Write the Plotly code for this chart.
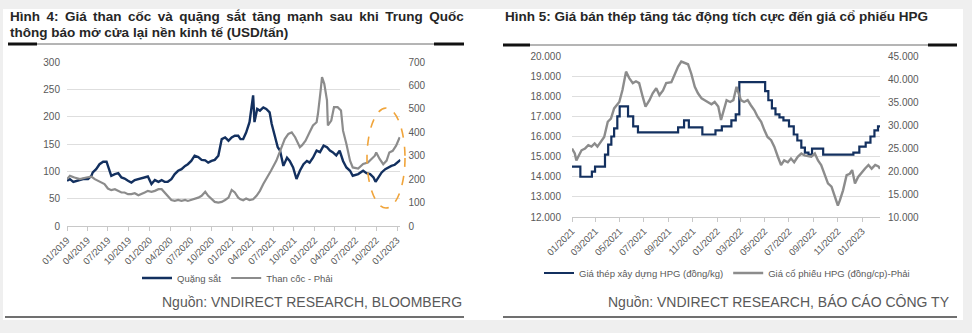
import plotly.graph_objects as go

W, H = 972, 333


def px(x):
    return x / W


def py(y):
    return 1 - y / H


FONT = "Liberation Sans, Arial, sans-serif"
NAVY = "#13305f"
GREY = "#8c8c8c"
TICK = "#595959"

# ---------------- Figure 4 data (USD/tấn) ----------------
ore_dates = [
    "2019-01-01", "2019-01-14", "2019-01-29", "2019-02-12", "2019-02-27", "2019-03-13",
    "2019-04-04", "2019-04-19", "2019-04-25", "2019-05-10", "2019-05-25", "2019-06-10",
    "2019-06-25", "2019-07-07", "2019-07-16", "2019-08-01", "2019-08-16", "2019-08-30",
    "2019-09-13", "2019-09-28", "2019-10-13", "2019-10-28", "2019-11-13", "2019-12-04",
    "2019-12-25", "2020-01-10", "2020-01-25", "2020-02-10", "2020-02-24", "2020-03-08",
    "2020-03-22", "2020-04-07", "2020-04-22", "2020-05-07", "2020-05-22", "2020-06-07",
    "2020-06-19", "2020-07-04", "2020-07-19", "2020-08-04", "2020-08-19", "2020-09-04",
    "2020-09-17", "2020-10-02", "2020-10-16", "2020-11-01", "2020-11-16", "2020-12-01",
    "2020-12-16", "2020-12-30", "2021-01-13", "2021-01-28", "2021-02-07", "2021-02-19",
    "2021-03-04", "2021-03-19", "2021-04-04", "2021-04-10", "2021-04-22", "2021-05-04",
    "2021-05-19", "2021-06-01", "2021-06-16", "2021-06-25", "2021-07-10", "2021-07-22",
    "2021-08-01", "2021-08-16", "2021-09-01", "2021-09-13", "2021-09-28", "2021-10-13",
    "2021-10-28", "2021-11-13", "2021-11-28", "2021-12-10", "2021-12-25", "2022-01-10",
    "2022-01-25", "2022-02-10", "2022-02-25", "2022-03-10", "2022-03-22", "2022-04-07",
    "2022-04-22", "2022-05-07", "2022-05-22", "2022-06-07", "2022-06-19", "2022-07-13",
    "2022-08-04", "2022-08-19", "2022-09-04", "2022-09-19", "2022-09-28", "2022-10-10",
    "2022-10-25", "2022-11-10", "2022-11-22", "2022-12-07", "2022-12-22", "2023-01-07",
    "2023-01-16",
]
ore_values = [
    82.7, 85.8, 80.8, 82.7, 84, 86,
    85.8, 91.8, 98, 104, 113, 117.6,
    117.6, 104, 91.8, 95, 96.6, 88.8,
    86.9, 82.7, 79.6, 84, 85.8, 86.9,
    90.6, 76.6, 84, 80.8, 84, 80.8,
    80.8, 85.8, 95, 101, 104, 110,
    113, 119, 128.6, 126, 121, 120,
    116, 119, 121, 128.6, 159, 162,
    156, 162, 165, 165, 159, 159,
    171, 190, 239, 190, 214, 211,
    217, 214, 208, 187, 165, 144,
    138, 110, 125, 119, 107, 86,
    101, 113, 119, 116, 125, 138,
    135, 147, 144, 138, 135, 129,
    138, 119, 107, 101, 92, 95,
    101, 96.6, 95, 88.8, 80.8, 88.8,
    98, 104, 107, 110, 112, 117.6,
    121,
]

coke_dates = [
    "2019-01-01", "2019-01-14", "2019-02-03", "2019-02-27", "2019-03-28", "2019-04-19",
    "2019-05-04", "2019-05-17", "2019-06-02", "2019-06-16", "2019-07-01", "2019-07-16",
    "2019-08-01", "2019-08-14", "2019-08-30", "2019-09-13", "2019-09-28", "2019-10-13",
    "2019-10-28", "2019-11-13", "2019-11-28", "2019-12-11", "2019-12-25", "2020-01-10",
    "2020-01-25", "2020-02-10", "2020-02-24", "2020-03-08", "2020-03-22", "2020-04-07",
    "2020-04-22", "2020-05-07", "2020-05-22", "2020-06-07", "2020-06-19", "2020-07-04",
    "2020-07-19", "2020-08-04", "2020-08-19", "2020-09-04", "2020-09-17", "2020-10-02",
    "2020-10-16", "2020-11-01", "2020-11-16", "2020-12-01", "2020-12-16", "2020-12-30",
    "2021-01-13", "2021-01-28", "2021-02-07", "2021-02-19", "2021-03-04", "2021-03-19",
    "2021-04-04", "2021-04-19", "2021-05-04", "2021-05-19", "2021-06-01", "2021-06-22",
    "2021-07-16", "2021-08-07", "2021-08-22", "2021-09-07", "2021-09-22", "2021-10-07",
    "2021-10-19", "2021-10-28", "2021-11-07", "2021-11-22", "2021-12-10", "2021-12-25",
    "2022-01-10", "2022-01-16", "2022-01-28", "2022-02-03", "2022-02-13", "2022-02-25",
    "2022-03-01", "2022-03-16", "2022-03-28", "2022-04-13", "2022-04-28", "2022-05-07",
    "2022-05-22", "2022-06-07", "2022-06-19", "2022-07-13", "2022-08-04", "2022-08-25",
    "2022-09-10", "2022-09-25", "2022-10-01", "2022-10-16", "2022-11-01", "2022-11-16",
    "2022-11-28", "2022-12-13", "2022-12-28", "2023-01-13",
]
coke_values = [
    200, 214, 207, 200, 207, 211,
    200, 193, 186, 179, 160, 153,
    157, 150, 143, 143, 136, 136,
    140, 131, 136, 143, 150, 146,
    150, 157, 157, 143, 129, 111,
    107, 111, 107, 111, 107, 111,
    114, 121, 129, 146, 129, 114,
    103, 100, 103, 111, 121, 154,
    143, 121, 114, 110, 117, 111,
    114, 129, 150, 179, 200, 236,
    279, 329, 371, 393, 400, 379,
    357, 336, 345, 364, 400, 429,
    443, 479, 579, 636, 607, 536,
    429, 450, 507, 507, 493, 407,
    350, 279, 250, 245, 265, 271,
    286, 300, 314, 286, 264, 279,
    314, 321, 343, 379,
]

# ---------------- Figure 5 data ----------------
steel_dates = [
    "2021-01-01", "2021-01-22", "2021-02-20", "2021-02-28", "2021-03-25", "2021-04-02",
    "2021-04-10", "2021-04-17", "2021-04-25", "2021-05-01", "2021-05-22", "2021-06-04",
    "2021-06-16", "2021-09-25", "2021-10-10", "2021-10-22", "2021-11-25", "2021-12-28",
    "2022-01-13", "2022-02-06", "2022-02-17", "2022-02-26", "2022-05-02", "2022-05-10",
    "2022-05-19", "2022-05-28", "2022-06-07", "2022-06-17", "2022-07-01", "2022-07-13",
    "2022-07-22", "2022-08-01", "2022-08-10", "2022-08-19", "2022-08-28", "2022-09-25",
    "2022-12-10", "2022-12-25", "2023-01-10", "2023-01-22", "2023-02-01", "2023-02-10",
    "2023-02-15",
]
steel_values = [
    14500, 14000, 14250, 14500, 15100, 15600,
    16000, 16400, 17000, 17500, 17000, 16500,
    16200, 16450, 16800, 16450, 16100, 16300,
    16500, 16800, 17100, 18700, 18250, 17800,
    17400, 17100, 16950, 16800, 16500, 16100,
    15800, 15450, 15200, 15100, 15400, 15100,
    15200, 15500, 15700, 16000, 16300, 16500,
    16500,
]

stock_dates = [
    "2021-01-01", "2021-01-08", "2021-01-12", "2021-01-16", "2021-01-25", "2021-02-03",
    "2021-02-11", "2021-02-19", "2021-02-27", "2021-03-06", "2021-03-15", "2021-03-23",
    "2021-04-01", "2021-04-09", "2021-04-17", "2021-04-30", "2021-05-08", "2021-05-17",
    "2021-05-25", "2021-06-03", "2021-06-11", "2021-06-19", "2021-06-28", "2021-07-05",
    "2021-07-15", "2021-07-23", "2021-08-01", "2021-08-09", "2021-08-18", "2021-08-26",
    "2021-09-08", "2021-09-16", "2021-09-25", "2021-10-03", "2021-10-11", "2021-10-20",
    "2021-10-28", "2021-11-06", "2021-11-14", "2021-11-23", "2021-12-01", "2021-12-09",
    "2021-12-18", "2021-12-26", "2022-01-04", "2022-01-11", "2022-01-17", "2022-01-25",
    "2022-02-03", "2022-02-11", "2022-02-19", "2022-02-25", "2022-03-02", "2022-03-10",
    "2022-03-19", "2022-03-27", "2022-04-05", "2022-04-13", "2022-04-22", "2022-04-30",
    "2022-05-08", "2022-05-17", "2022-05-25", "2022-06-03", "2022-06-11", "2022-06-19",
    "2022-06-28", "2022-07-06", "2022-07-14", "2022-07-23", "2022-08-01", "2022-08-09",
    "2022-08-17", "2022-08-26", "2022-09-04", "2022-09-12", "2022-09-20", "2022-09-29",
    "2022-10-07", "2022-10-16", "2022-10-24", "2022-11-01", "2022-11-06", "2022-11-14",
    "2022-11-23", "2022-12-01", "2022-12-07", "2022-12-14", "2022-12-22", "2022-12-31",
    "2023-01-08", "2023-01-17", "2023-01-25", "2023-02-03", "2023-02-11", "2023-02-15",
]
stock_values = [
    24900, 23800, 22300, 23100, 24500, 24900,
    25600, 25300, 26000, 25300, 26400, 27400,
    30700, 31400, 33600, 35000, 37600, 41600,
    40200, 39100, 39500, 39100, 36100, 34000,
    35400, 36900, 38000, 36500, 37500, 39100,
    39300, 40900, 42700, 43800, 43500, 43200,
    41200, 38300, 36900, 35800, 35400, 35000,
    34500, 35000, 34000, 31100, 33200, 35400,
    35000, 35400, 38300, 36900, 35400, 35000,
    35400, 34300, 33200, 31800, 30700, 28900,
    27400, 26700, 25300, 23100, 21300, 22300,
    21900, 22700, 21900, 23100, 23800, 23400,
    23300, 23100, 23800, 22300, 21300, 19100,
    17300, 16600, 14400, 12500, 13600, 15800,
    19100, 19400, 20200, 17300, 18700, 19800,
    20500, 21300, 20500, 21300, 21000, 20500,
]

# ---------------- texts ----------------
title4_l1 = "Hình 4: Giá than cốc và quặng sắt tăng mạnh sau khi Trung Quốc"
title4_l2 = "thông báo mở cửa lại nền kinh tế (USD/tấn)"
title5 = "Hình 5: Giá bán thép tăng tác động tích cực đến giá cổ phiếu HPG"
source4 = "Nguồn: VNDIRECT RESEARCH, BLOOMBERG"
source5 = "Nguồn: VNDIRECT RESEARCH, BÁO CÁO CÔNG TY"

fig = go.Figure()

fig.add_trace(go.Scatter(x=ore_dates, y=ore_values, name="Quặng sắt", mode="lines",
                         line=dict(color=NAVY, width=2.4), xaxis="x", yaxis="y",
                         legend="legend"))
fig.add_trace(go.Scatter(x=coke_dates, y=coke_values, name="Than cốc - Phải", mode="lines",
                         line=dict(color=GREY, width=2.2), xaxis="x", yaxis="y2",
                         legend="legend"))
fig.add_trace(go.Scatter(x=steel_dates, y=steel_values, name="Giá thép xây dựng HPG (đồng/kg)",
                         mode="lines", line=dict(color=NAVY, width=2.2, shape="hv"),
                         xaxis="x2", yaxis="y3", legend="legend2"))
fig.add_trace(go.Scatter(x=stock_dates, y=stock_values, name="Giá cổ phiếu HPG (đồng/cp)-Phải",
                         mode="lines", line=dict(color=GREY, width=2.4),
                         xaxis="x2", yaxis="y4", legend="legend2"))

tickfont = dict(family=FONT, size=10, color=TICK)
xtickfont = dict(family=FONT, size=9.5, color=TICK)
xcommon = dict(type="date", tickformat="%m/%Y", tickangle=-45, tickfont=xtickfont,
               showgrid=False, showline=True, linecolor="#c8c8c8", linewidth=1,
               ticks="outside", ticklen=4, tickcolor="#c8c8c8", zeroline=False,
               automargin=False)
ycommon = dict(tickfont=tickfont, showline=False, zeroline=False, ticks="", automargin=False)

fig.update_layout(
    width=W, height=H,
    margin=dict(l=0, r=0, t=0, b=0, pad=0, autoexpand=False),
    paper_bgcolor="white", plot_bgcolor="rgba(0,0,0,0)",
    separators=",.",
    font=dict(family=FONT, color=TICK),
    xaxis=dict(domain=[px(67), px(400.4)], range=["2019-01-01", "2023-01-16"],
               dtick="M3", tick0="2019-01-01", anchor="y", **xcommon),
    yaxis=dict(domain=[py(226), py(62)], range=[0, 300], dtick=50, anchor="x",
               showgrid=True, gridcolor="#dedede", gridwidth=1, ticklabelstandoff=6, **ycommon),
    yaxis2=dict(overlaying="y", side="right", anchor="x", range=[0, 700], dtick=100,
                showgrid=False, ticklabelstandoff=7, **ycommon),
    xaxis2=dict(domain=[px(572), px(880)], range=["2021-01-01", "2023-02-15"],
                dtick="M2", tick0="2021-01-01", anchor="y3", **xcommon),
    yaxis3=dict(domain=[py(217), py(56)], range=[12000, 20000], dtick=1000, anchor="x2",
                tickformat=",d", showgrid=True, gridcolor="#dedede", gridwidth=1,
                ticklabelstandoff=10, **ycommon),
    yaxis4=dict(overlaying="y3", side="right", anchor="x2", range=[10000, 45000], dtick=5000,
                tickformat=",d", showgrid=False, ticklabelstandoff=7, **ycommon),
    legend=dict(orientation="h", x=px(137), y=py(278), xanchor="left", yanchor="middle",
                font=dict(family=FONT, size=9.5, color=TICK), bgcolor="rgba(0,0,0,0)",
                itemwidth=30, tracegroupgap=0),
    legend2=dict(orientation="h", x=px(539), y=py(273), xanchor="left", yanchor="middle",
                 font=dict(family=FONT, size=9.5, color=TICK), bgcolor="rgba(0,0,0,0)",
                 itemwidth=30),
    showlegend=True,
)

title_font = dict(family=FONT, size=13.5, color="#262626")
src_font = dict(family=FONT, size=14, color="#595959")
# first title line is justified to the full column width in the source layout
title4_l1_just = title4_l1.replace(" ", " \u2009")
annots = [
    dict(text="<b>" + title4_l1_just + "</b>", x=px(8), y=py(16), xanchor="left",
         yanchor="middle", font=title_font),
    dict(text="<b>" + title4_l2 + "</b>", x=px(8), y=py(33), xanchor="left", yanchor="middle",
         font=title_font),
    dict(text="<b>" + title5 + "</b>", x=px(503), y=py(17), xanchor="left", yanchor="middle",
         font=title_font),
    dict(text=source4, x=px(464), y=py(302), xanchor="right", yanchor="middle", font=src_font),
    dict(text=source5, x=px(952), y=py(302), xanchor="right", yanchor="middle", font=src_font),
]
for a in annots:
    a.update(xref="paper", yref="paper", showarrow=False)
fig.update_layout(annotations=annots)

BG = "#efefef"
shapes = [
    # light grey page strips
    dict(type="rect", x0=0, x1=1, y0=py(9), y1=1, fillcolor=BG, line_width=0, layer="below"),
    dict(type="rect", x0=0, x1=1, y0=0, y1=py(320), fillcolor=BG, line_width=0, layer="below"),
    dict(type="rect", x0=px(963), x1=1, y0=0, y1=1, fillcolor=BG, line_width=0, layer="below"),
    dict(type="rect", x0=0, x1=px(3), y0=0, y1=1, fillcolor=BG, line_width=0, layer="below"),
    # title rules
    dict(type="line", x0=px(8), x1=px(464), y0=py(44), y1=py(44), line=dict(color="#6b6b6b", width=1)),
    dict(type="line", x0=px(8), x1=px(37), y0=py(44), y1=py(44), line=dict(color="#111111", width=3)),
    dict(type="line", x0=px(434), x1=px(464), y0=py(44), y1=py(44), line=dict(color="#111111", width=3)),
    dict(type="line", x0=px(503), x1=px(957), y0=py(45), y1=py(45), line=dict(color="#6b6b6b", width=1)),
    dict(type="line", x0=px(503), x1=px(530), y0=py(45), y1=py(45), line=dict(color="#111111", width=3)),
    dict(type="line", x0=px(928), x1=px(957), y0=py(45), y1=py(45), line=dict(color="#111111", width=3)),
    # bottom rules
    dict(type="line", x0=px(5), x1=px(464), y0=py(317), y1=py(317), line=dict(color="#404040", width=1.5)),
    dict(type="line", x0=px(503), x1=px(957), y0=py(317), y1=py(317), line=dict(color="#404040", width=1.5)),
    # orange dashed highlight ellipse
    dict(type="circle", x0=px(367), x1=px(405), y0=py(208), y1=py(108),
         line=dict(color="#f0a43a", width=1.6, dash="dash")),
]
for s in shapes:
    s.update(xref="paper", yref="paper")
fig.update_layout(shapes=shapes)

fig.write_html("out.html")
